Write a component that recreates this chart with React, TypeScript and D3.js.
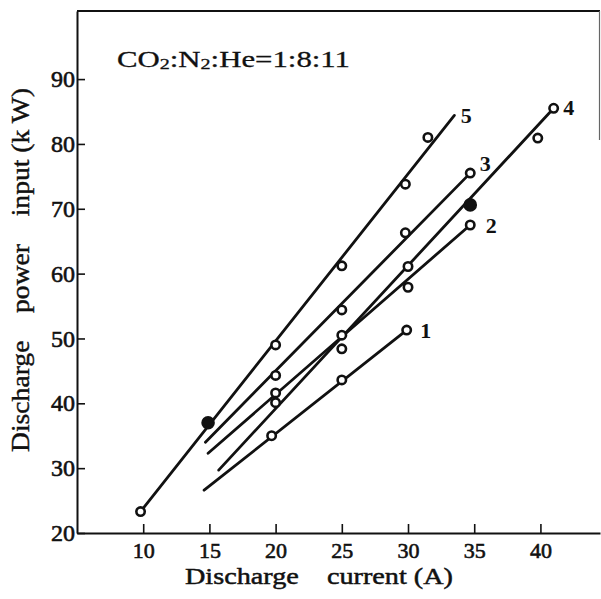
import React, { useEffect, useRef } from "react";
import * as d3 from "d3";

// Discharge current (A) and power input (kW), one pair of arrays per curve
const seriesLabels = ["1", "2", "3", "4", "5"];

const current1 = [19.7, 25, 29.9];
const power1 = [35.0, 43.6, 51.3];
const current2 = [20, 25, 30, 34.7];
const power2 = [41.6, 48.4, 57.9, 67.5];
const current3 = [20, 25, 29.8, 34.7];
const power3 = [44.3, 54.4, 66.3, 75.5];
const current4 = [20, 25, 30, 34.7, 39.8, 41];
const power4 = [40.1, 50.5, 61.1, 70.6, 80.9, 85.5];
const current5 = [9.8, 14.9, 20, 25, 29.8, 31.5];
const power5 = [23.3, 37.0, 49.0, 61.2, 73.8, 81.0];

// which measured points are drawn as solid dots
const filled1: number[] = [];
const filled2: number[] = [];
const filled3: number[] = [];
const filled4 = [3];
const filled5 = [1];

// straight fitted lines, start and end of each
const fitFromCurrent = [14.6, 14.9, 14.7, 15.7, 9.8];
const fitFromPower = [26.6, 32.3, 34.0, 29.7, 23.3];
const fitToCurrent = [29.9, 34.7, 34.7, 41, 33.5];
const fitToPower = [51.3, 67.5, 75.5, 85.5, 84.4];

const xTicks = [10, 15, 20, 25, 30, 35, 40];
const yTicks = [20, 30, 40, 50, 60, 70, 80, 90];

const W = 601,
  H = 599;
const FONT = "'Liberation Serif', 'DejaVu Serif', serif";
const INK = "#111";

// label offset from the end of each fitted line, in pixels
const labelDx = [19, 21, 15, 15, 12];
const labelDy = [0, 0, -10, -1, 0];

export default function App() {
  const ref = useRef<SVGSVGElement>(null);

  useEffect(() => {
    const svg = d3.select(ref.current);
    svg.selectAll("*").remove();

    const left = 77,
      right = 600,
      top = 11,
      bottom = 533;

    const x = d3.scaleLinear().domain([5, 44.5]).range([left, right]);
    const y = d3.scaleLinear().domain([20, 100.5]).range([bottom, top]);

    const series = [
      { c: current1, p: power1, f: filled1 },
      { c: current2, p: power2, f: filled2 },
      { c: current3, p: power3, f: filled3 },
      { c: current4, p: power4, f: filled4 },
      { c: current5, p: power5, f: filled5 },
    ];

    // frame: top border and the faint right border
    svg
      .append("line")
      .attr("x1", left)
      .attr("x2", right)
      .attr("y1", top)
      .attr("y2", top)
      .attr("stroke", INK)
      .attr("stroke-width", 2);
    svg
      .append("line")
      .attr("x1", right - 0.5)
      .attr("x2", right - 0.5)
      .attr("y1", top)
      .attr("y2", 140)
      .attr("stroke", "#666")
      .attr("stroke-width", 1.2);

    // axes with ticks pointing inward
    const gx = svg
      .append("g")
      .attr("transform", `translate(0,${bottom})`)
      .call(
        d3
          .axisBottom(x)
          .tickValues(xTicks)
          .tickSizeInner(-9)
          .tickSizeOuter(0)
          .tickPadding(9)
          .tickFormat(d3.format("d"))
      );
    const gy = svg
      .append("g")
      .attr("transform", `translate(${left},0)`)
      .call(
        d3
          .axisLeft(y)
          .tickValues(yTicks)
          .tickSizeInner(-8)
          .tickSizeOuter(0)
          .tickPadding(2)
          .tickFormat(d3.format("d"))
      );

    [gx, gy].forEach((g) => {
      g.select(".domain").attr("stroke", INK).attr("stroke-width", 2);
      g.selectAll(".tick line").attr("stroke", INK).attr("stroke-width", 1.6);
      g.selectAll(".tick text")
        .attr("fill", INK)
        .attr("stroke", INK)
        .attr("stroke-width", 0.6)
        .style("font-family", FONT);
    });
    gx.selectAll(".tick text").style("font-size", "22px");
    gy.selectAll(".tick text").style("font-size", "24px");

    // fitted lines
    series.forEach((s, i) => {
      svg
        .append("line")
        .attr("x1", x(fitFromCurrent[i]))
        .attr("y1", y(fitFromPower[i]))
        .attr("x2", x(fitToCurrent[i]))
        .attr("y2", y(fitToPower[i]))
        .attr("stroke", INK)
        .attr("stroke-width", 2.8)
        .attr("stroke-linecap", "round");
    });

    // measured points
    series.forEach((s) => {
      svg
        .append("g")
        .selectAll("circle")
        .data(s.c)
        .enter()
        .append("circle")
        .attr("cx", (d) => x(d))
        .attr("cy", (d, j) => y(s.p[j]))
        .attr("r", (d, j) => (s.f.includes(j) ? 5.5 : 4.2))
        .attr("fill", (d, j) => (s.f.includes(j) ? INK : "#fff"))
        .attr("stroke", INK)
        .attr("stroke-width", 2.6);
    });

    // curve numbers
    seriesLabels.forEach((lab, i) => {
      svg
        .append("text")
        .attr("x", x(fitToCurrent[i]) + labelDx[i])
        .attr("y", y(fitToPower[i]) + labelDy[i])
        .attr("dy", "0.35em")
        .attr("text-anchor", "middle")
        .style("font-family", FONT)
        .style("font-size", "22px")
        .style("font-weight", "bold")
        .attr("fill", INK)
        .text(lab);
    });

    // gas mixture note
    const note = svg
      .append("text")
      .attr("x", 117)
      .attr("y", 67)
      .attr("textLength", 233)
      .attr("lengthAdjust", "spacingAndGlyphs")
      .style("font-family", FONT)
      .style("font-size", "23px")
      .attr("fill", INK)
      .attr("stroke", INK)
      .attr("stroke-width", 0.3);
    note.append("tspan").text("CO");
    note.append("tspan").attr("dy", 2).style("font-size", "15px").text("2");
    note.append("tspan").attr("dy", -2).text(":N");
    note.append("tspan").attr("dy", 2).style("font-size", "15px").text("2");
    note.append("tspan").attr("dy", -2).text(":He=1:8:11");

    // axis titles
    svg
      .append("text")
      .attr("x", 185)
      .attr("y", 584)
      .attr("textLength", 268)
      .attr("lengthAdjust", "spacingAndGlyphs")
      .style("font-family", FONT)
      .style("font-size", "24px")
      .style("white-space", "pre")
      .attr("fill", INK)
      .attr("stroke", INK)
      .attr("stroke-width", 0.5)
      .text("Discharge    current (A)");

    svg
      .append("text")
      .attr("transform", "translate(29,452) rotate(-90)")
      .attr("textLength", 364)
      .attr("lengthAdjust", "spacingAndGlyphs")
      .style("font-family", FONT)
      .style("font-size", "25px")
      .style("white-space", "pre")
      .attr("fill", INK)
      .attr("stroke", INK)
      .attr("stroke-width", 0.4)
      .text("Discharge    power    input (k W)");
  }, []);

  return (
    <div style={{ position: "absolute", left: 0, top: 0 }}>
      <svg ref={ref} width={W} height={H} style={{ display: "block", background: "#fff" }} />
    </div>
  );
}
